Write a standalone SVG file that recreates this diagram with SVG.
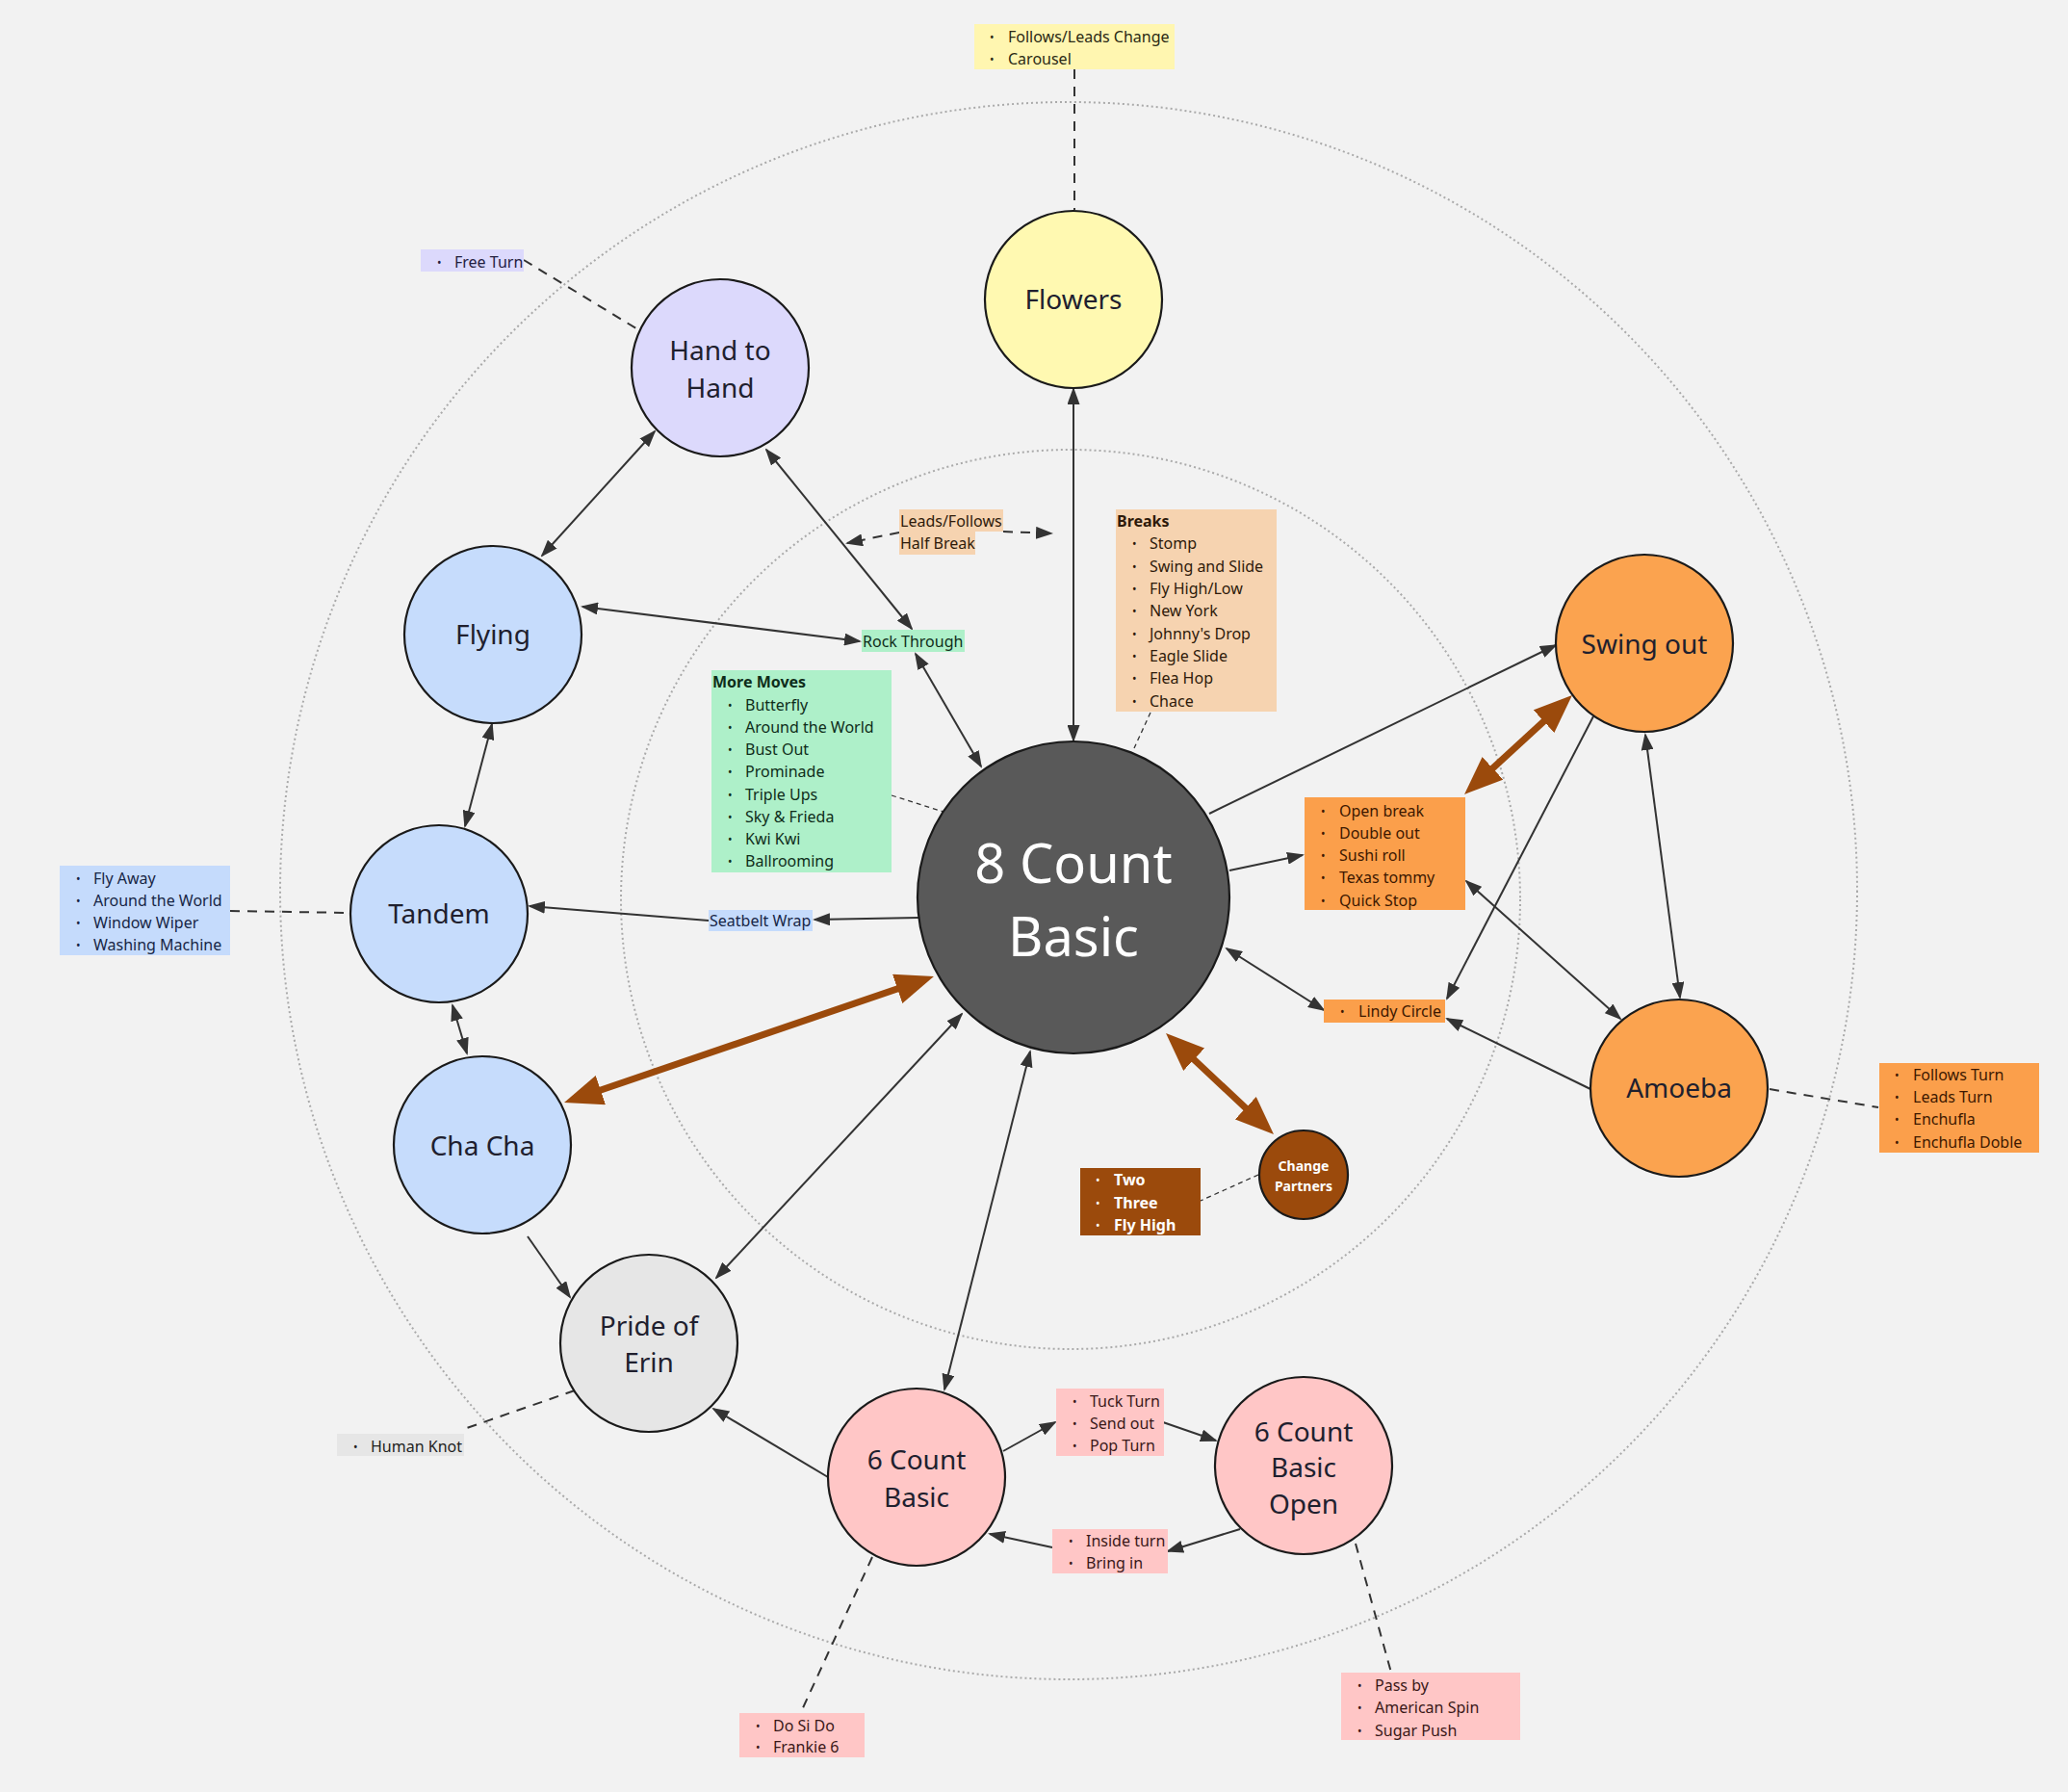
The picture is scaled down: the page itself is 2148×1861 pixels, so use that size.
<svg xmlns="http://www.w3.org/2000/svg" width="2148" height="1861" viewBox="0 0 2148 1861">
<defs>
<style>
.n{stroke:#1a1a1a;stroke-width:2.2}
.nt{font-family:"Noto Sans","Open Sans",sans-serif;font-size:28px;fill:#20202e;text-anchor:middle}
.t{font-family:"Noto Sans","Open Sans",sans-serif;font-size:16px}
.bt{font-weight:bold}
.bu{font-size:12px}
.c{stroke:#333;stroke-width:2;fill:none}
.d{stroke:#333;stroke-width:2;stroke-dasharray:10 8;fill:none}
.fd{stroke:#333;stroke-width:1.3;stroke-dasharray:5 4;fill:none}
.k{stroke:#9b4a0c;stroke-width:7;fill:none}
.ring{fill:none;stroke:#aaa;stroke-width:2;stroke-dasharray:2 3}
</style>
<marker id="a" viewBox="0 0 18 13" refX="16" refY="6.5" markerWidth="18" markerHeight="13" markerUnits="userSpaceOnUse" orient="auto-start-reverse"><path d="M0,0 L18,6.5 L0,13 z" fill="#333"/></marker>
<marker id="A" viewBox="0 0 40 32" refX="30" refY="16" markerWidth="40" markerHeight="32" markerUnits="userSpaceOnUse" orient="auto-start-reverse"><path d="M0,0 L40,16 L0,32 z" fill="#9b4a0c"/></marker>
</defs>
<rect width="2148" height="1861" fill="#f2f2f2"/>
<circle class="ring" cx="1110" cy="925" r="819"/>
<circle class="ring" cx="1112" cy="934" r="467"/>

<g id="connectors">
<line class="d" x1="1116" y1="72" x2="1116" y2="218"/>
<line class="d" x1="544" y1="270" x2="664" y2="343"/>
<line class="c" x1="1115" y1="404" x2="1115" y2="769" marker-start="url(#a)" marker-end="url(#a)"/>
<line class="c" x1="680" y1="448" x2="563" y2="577" marker-start="url(#a)" marker-end="url(#a)"/>
<line class="c" x1="605" y1="630" x2="893" y2="666" marker-start="url(#a)" marker-end="url(#a)"/>
<line class="c" x1="796" y1="467" x2="947" y2="653" marker-start="url(#a)" marker-end="url(#a)"/>
<line class="c" x1="951" y1="679" x2="1019" y2="796" marker-start="url(#a)" marker-end="url(#a)"/>
<line class="c" x1="511" y1="752" x2="483" y2="858" marker-start="url(#a)" marker-end="url(#a)"/>
<line class="c" x1="470" y1="1044" x2="485" y2="1094" marker-start="url(#a)" marker-end="url(#a)"/>
<line class="d" x1="239" y1="946" x2="363" y2="948"/>
<line class="c" x1="954" y1="953" x2="846" y2="955" marker-end="url(#a)"/>
<line class="c" x1="736" y1="956" x2="550" y2="941" marker-end="url(#a)"/>
<line class="k" x1="595.5" y1="1141.8" x2="960.5" y2="1017.2" marker-start="url(#A)" marker-end="url(#A)"/>
<line class="c" x1="548" y1="1284" x2="592" y2="1347" marker-end="url(#a)"/>
<line class="c" x1="999" y1="1053" x2="744" y2="1327" marker-start="url(#a)" marker-end="url(#a)"/>
<line class="c" x1="1070" y1="1092" x2="981" y2="1443" marker-start="url(#a)" marker-end="url(#a)"/>
<line class="c" x1="860" y1="1534" x2="741" y2="1463" marker-end="url(#a)"/>
<line class="c" x1="1042" y1="1507" x2="1096" y2="1477" marker-end="url(#a)"/>
<line class="c" x1="1208" y1="1477" x2="1263" y2="1496" marker-end="url(#a)"/>
<line class="c" x1="1288" y1="1588" x2="1213" y2="1611" marker-end="url(#a)"/>
<line class="c" x1="1093" y1="1607" x2="1028" y2="1593" marker-end="url(#a)"/>
<line class="d" x1="597" y1="1444" x2="482" y2="1484"/>
<line class="d" x1="906" y1="1617" x2="832" y2="1778"/>
<line class="d" x1="1408" y1="1603" x2="1445" y2="1737"/>
<line class="fd" x1="926" y1="826" x2="980" y2="843"/>
<line class="fd" x1="1195" y1="740" x2="1178" y2="777"/>
<path class="d" d="M934,553 L880,564" marker-end="url(#a)"/>
<path class="d" d="M1042,552 L1092,554" marker-end="url(#a)"/>
<line class="c" x1="1256" y1="845" x2="1616" y2="670" marker-end="url(#a)"/>
<line class="c" x1="1277" y1="904" x2="1353" y2="888" marker-end="url(#a)"/>
<line class="k" x1="1528.4" y1="818.2" x2="1625.6" y2="728.8" marker-start="url(#A)" marker-end="url(#A)"/>
<line class="c" x1="1523" y1="915" x2="1683" y2="1058" marker-start="url(#a)" marker-end="url(#a)"/>
<line class="c" x1="1709" y1="763" x2="1745" y2="1036" marker-start="url(#a)" marker-end="url(#a)"/>
<line class="c" x1="1655" y1="744" x2="1503" y2="1037" marker-end="url(#a)"/>
<line class="c" x1="1652" y1="1131" x2="1503" y2="1058" marker-end="url(#a)"/>
<line class="c" x1="1274" y1="985" x2="1375" y2="1049" marker-start="url(#a)" marker-end="url(#a)"/>
<line class="d" x1="1838" y1="1131" x2="1951" y2="1150"/>
<line class="k" x1="1218.3" y1="1079.8" x2="1315.7" y2="1171.2" marker-start="url(#A)" marker-end="url(#A)"/>
<line class="fd" x1="1307" y1="1220" x2="1247" y2="1247"/>
</g>

<g id="node-flowers"><circle class="n" cx="1115" cy="311" r="92" fill="#fff9b1"/><text class="nt" x="1115" y="321">Flowers</text></g>
<g id="node-hand-to-hand"><circle class="n" cx="748" cy="382" r="92" fill="#dcd9fc"/><text class="nt" x="748" y="374">Hand to</text><text class="nt" x="748" y="413">Hand</text></g>
<g id="node-flying"><circle class="n" cx="512" cy="659" r="92" fill="#c6dcfc"/><text class="nt" x="512" y="669">Flying</text></g>
<g id="node-tandem"><circle class="n" cx="456" cy="949" r="92" fill="#c6dcfc"/><text class="nt" x="456" y="959">Tandem</text></g>
<g id="node-cha-cha"><circle class="n" cx="501" cy="1189" r="92" fill="#c6dcfc"/><text class="nt" x="501" y="1200">Cha Cha</text></g>
<g id="node-pride"><circle class="n" cx="674" cy="1395" r="92" fill="#e6e6e6"/><text class="nt" x="674" y="1387">Pride of</text><text class="nt" x="674" y="1425">Erin</text></g>
<g id="node-6count"><circle class="n" cx="952" cy="1534" r="92" fill="#ffc6c6"/><text class="nt" x="952" y="1526">6 Count</text><text class="nt" x="952" y="1565">Basic</text></g>
<g id="node-6count-open"><circle class="n" cx="1354" cy="1522" r="92" fill="#ffc6c6"/><text class="nt" x="1354" y="1497">6 Count</text><text class="nt" x="1354" y="1534">Basic</text><text class="nt" x="1354" y="1572">Open</text></g>
<g id="node-8count"><circle class="n" cx="1115" cy="932" r="162" fill="#595959"/><text class="nt" x="1115" y="917" style="font-size:56px;fill:#fff">8 Count</text><text class="nt" x="1115" y="993" style="font-size:56px;fill:#fff">Basic</text></g>
<g id="node-swing-out"><circle class="n" cx="1708" cy="668" r="92" fill="#fba34f"/><text class="nt" x="1708" y="679">Swing out</text></g>
<g id="node-amoeba"><circle class="n" cx="1744" cy="1130" r="92" fill="#fba34f"/><text class="nt" x="1744" y="1140">Amoeba</text></g>
<g id="node-change-partners"><circle class="n" cx="1354" cy="1220" r="46" fill="#9b4a0c"/><text class="t bt" x="1354" y="1216" style="font-size:14px;fill:#fff;text-anchor:middle">Change</text><text class="t bt" x="1354" y="1237" style="font-size:14px;fill:#fff;text-anchor:middle">Partners</text></g>

<g id="box-flowers-notes" fill="#2b2a14"><rect x="1012" y="25" width="208" height="47" fill="#fff6b0"/>
<text class="t bu" x="1028" y="43">•</text><text class="t" x="1047" y="44">Follows/Leads Change</text>
<text class="t bu" x="1028" y="66">•</text><text class="t" x="1047" y="67">Carousel</text></g>

<g id="box-free-turn" fill="#23203f"><rect x="437" y="259" width="107" height="23" fill="#dcd9fc"/>
<text class="t bu" x="454" y="277">•</text><text class="t" x="472" y="278">Free Turn</text></g>

<g id="box-half-break" fill="#2e1a0a"><rect x="934" y="529" width="108" height="23" fill="#f6d3b0"/><rect x="934" y="552" width="79" height="24" fill="#f6d3b0"/>
<text class="t" x="935" y="547">Leads/Follows</text><text class="t" x="935" y="570">Half Break</text></g>

<g id="box-breaks" fill="#2e1a0a"><rect x="1159" y="529" width="167" height="210" fill="#f6d3b0"/>
<text class="t bt" x="1160" y="547">Breaks</text>
<text class="t bu" x="1176" y="569">•</text><text class="t" x="1194" y="570">Stomp</text>
<text class="t bu" x="1176" y="593">•</text><text class="t" x="1194" y="594">Swing and Slide</text>
<text class="t bu" x="1176" y="616">•</text><text class="t" x="1194" y="617">Fly High/Low</text>
<text class="t bu" x="1176" y="639">•</text><text class="t" x="1194" y="640">New York</text>
<text class="t bu" x="1176" y="663">•</text><text class="t" x="1194" y="664">Johnny's Drop</text>
<text class="t bu" x="1176" y="686">•</text><text class="t" x="1194" y="687">Eagle Slide</text>
<text class="t bu" x="1176" y="709">•</text><text class="t" x="1194" y="710">Flea Hop</text>
<text class="t bu" x="1176" y="733">•</text><text class="t" x="1194" y="734">Chace</text></g>

<g id="box-rock-through" fill="#0e2d1a"><rect x="895" y="654" width="107" height="23" fill="#aef0c9"/><text class="t" x="896" y="672">Rock Through</text></g>

<g id="box-more-moves" fill="#0e2d1a"><rect x="739" y="696" width="187" height="210" fill="#aef0c9"/>
<text class="t bt" x="740" y="714">More Moves</text>
<text class="t bu" x="756" y="737">•</text><text class="t" x="774" y="738">Butterfly</text>
<text class="t bu" x="756" y="760">•</text><text class="t" x="774" y="761">Around the World</text>
<text class="t bu" x="756" y="783">•</text><text class="t" x="774" y="784">Bust Out</text>
<text class="t bu" x="756" y="806">•</text><text class="t" x="774" y="807">Prominade</text>
<text class="t bu" x="756" y="830">•</text><text class="t" x="774" y="831">Triple Ups</text>
<text class="t bu" x="756" y="853">•</text><text class="t" x="774" y="854">Sky &amp; Frieda</text>
<text class="t bu" x="756" y="876">•</text><text class="t" x="774" y="877">Kwi Kwi</text>
<text class="t bu" x="756" y="899">•</text><text class="t" x="774" y="900">Ballrooming</text></g>

<g id="box-tandem-notes" fill="#172646"><rect x="62" y="899" width="177" height="93" fill="#c5dbfc"/>
<text class="t bu" x="79" y="917">•</text><text class="t" x="97" y="918">Fly Away</text>
<text class="t bu" x="79" y="940">•</text><text class="t" x="97" y="941">Around the World</text>
<text class="t bu" x="79" y="963">•</text><text class="t" x="97" y="964">Window Wiper</text>
<text class="t bu" x="79" y="986">•</text><text class="t" x="97" y="987">Washing Machine</text></g>

<g id="box-seatbelt" fill="#172646"><rect x="736" y="945" width="108" height="22" fill="#c5dbfc"/><text class="t" x="737" y="962">Seatbelt Wrap</text></g>

<g id="box-open-break" fill="#3d1800"><rect x="1355" y="828" width="167" height="117" fill="#fb9f4b"/>
<text class="t bu" x="1372" y="847">•</text><text class="t" x="1391" y="848">Open break</text>
<text class="t bu" x="1372" y="870">•</text><text class="t" x="1391" y="871">Double out</text>
<text class="t bu" x="1372" y="893">•</text><text class="t" x="1391" y="894">Sushi roll</text>
<text class="t bu" x="1372" y="916">•</text><text class="t" x="1391" y="917">Texas tommy</text>
<text class="t bu" x="1372" y="940">•</text><text class="t" x="1391" y="941">Quick Stop</text></g>

<g id="box-lindy" fill="#3d1800"><rect x="1375" y="1038" width="126" height="24" fill="#fb9f4b"/>
<text class="t bu" x="1392" y="1055">•</text><text class="t" x="1411" y="1056">Lindy Circle</text></g>

<g id="box-amoeba-notes" fill="#3d1800"><rect x="1952" y="1104" width="166" height="93" fill="#fb9f4b"/>
<text class="t bu" x="1968" y="1121">•</text><text class="t" x="1987" y="1122">Follows Turn</text>
<text class="t bu" x="1968" y="1144">•</text><text class="t" x="1987" y="1145">Leads Turn</text>
<text class="t bu" x="1968" y="1167">•</text><text class="t" x="1987" y="1168">Enchufla</text>
<text class="t bu" x="1968" y="1191">•</text><text class="t" x="1987" y="1192">Enchufla Doble</text></g>

<g id="box-change-notes" fill="#ffffff"><rect x="1122" y="1213" width="125" height="70" fill="#9b4a0c"/>
<text class="t bu" x="1138" y="1230">•</text><text class="t bt" x="1157" y="1231">Two</text>
<text class="t bu" x="1138" y="1254">•</text><text class="t bt" x="1157" y="1255">Three</text>
<text class="t bu" x="1138" y="1277">•</text><text class="t bt" x="1157" y="1278">Fly High</text></g>

<g id="box-tuck" fill="#3a1818"><rect x="1097" y="1442" width="112" height="70" fill="#ffc6c6"/>
<text class="t bu" x="1114" y="1460">•</text><text class="t" x="1132" y="1461">Tuck Turn</text>
<text class="t bu" x="1114" y="1483">•</text><text class="t" x="1132" y="1484">Send out</text>
<text class="t bu" x="1114" y="1506">•</text><text class="t" x="1132" y="1507">Pop Turn</text></g>

<g id="box-inside" fill="#3a1818"><rect x="1093" y="1588" width="120" height="46" fill="#ffc6c6"/>
<text class="t bu" x="1110" y="1605">•</text><text class="t" x="1128" y="1606">Inside turn</text>
<text class="t bu" x="1110" y="1628">•</text><text class="t" x="1128" y="1629">Bring in</text></g>

<g id="box-human-knot" fill="#222"><rect x="350" y="1489" width="132" height="23" fill="#e6e6e6"/>
<text class="t bu" x="367" y="1507">•</text><text class="t" x="385" y="1508">Human Knot</text></g>

<g id="box-do-si-do" fill="#3a1818"><rect x="768" y="1779" width="130" height="46" fill="#ffc6c6"/>
<text class="t bu" x="785" y="1797">•</text><text class="t" x="803" y="1798">Do Si Do</text>
<text class="t bu" x="785" y="1819">•</text><text class="t" x="803" y="1820">Frankie 6</text></g>

<g id="box-pass-by" fill="#3a1818"><rect x="1393" y="1737" width="186" height="70" fill="#ffc6c6"/>
<text class="t bu" x="1410" y="1755">•</text><text class="t" x="1428" y="1756">Pass by</text>
<text class="t bu" x="1410" y="1778">•</text><text class="t" x="1428" y="1779">American Spin</text>
<text class="t bu" x="1410" y="1802">•</text><text class="t" x="1428" y="1803">Sugar Push</text></g>
</svg>
